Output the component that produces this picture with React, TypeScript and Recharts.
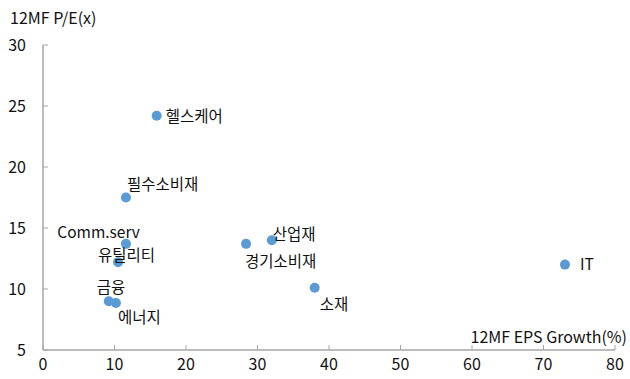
import { Scatter, ScatterChart, XAxis, YAxis } from "recharts";

// 업종별 12MF EPS 성장률 vs 12MF P/E 산점도

const SECTORS = ["헬스케어", "필수소비재", "Comm.serv", "유틸리티", "금융", "에너지", "경기소비재", "산업재", "소재", "IT"];
const EPS_GROWTH = [15.9, 11.6, 11.6, 10.5, 9.2, 10.2, 28.4, 32.0, 38.0, 73.0];
const PE = [24.2, 17.5, 13.7, 12.2, 9.0, 8.85, 13.7, 14.0, 10.1, 12.0];
const X_TICKS = [0, 10, 20, 30, 40, 50, 60, 70, 80];
const Y_TICKS = [5, 10, 15, 20, 25, 30];

const DOT = "#5b9bd5";
const AXIS = "#a6a6a6";
const FONT = "'Noto Sans CJK KR', 'Noto Sans', sans-serif";

// 라벨 위치 (점 기준 오프셋)
const LABEL_POS: Record<string, { dx: number; dy: number; anchor?: "start" | "end" }> = {
  헬스케어: { dx: 9, dy: -1 },
  필수소비재: { dx: 1, dy: -15 },
  "Comm.serv": { dx: 14, dy: -13, anchor: "end" },
  유틸리티: { dx: -20, dy: -8 },
  금융: { dx: -12, dy: -15 },
  에너지: { dx: 2, dy: 13 },
  경기소비재: { dx: -1, dy: 16 },
  산업재: { dx: 1, dy: -7 },
  소재: { dx: 5, dy: 15 },
  IT: { dx: 15, dy: -2 },
};

const data = SECTORS.map((name, i) => ({ name, x: EPS_GROWTH[i], y: PE[i] }));

function Dot(props: any) {
  const { cx, cy, payload } = props;
  const pos = LABEL_POS[payload.name] ?? { dx: 8, dy: 0 };
  return (
    <g>
      <circle cx={cx} cy={cy} r={5} fill={DOT} />
      <text
        x={cx + pos.dx}
        y={cy + pos.dy}
        textAnchor={pos.anchor ?? "start"}
        dominantBaseline="central"
        fontSize={15.5}
        fill="#111"
        fontFamily={FONT}
      >
        {payload.name}
      </text>
    </g>
  );
}

export default function App() {
  return (
    <div style={{ position: "absolute", left: 0, top: 0, width: 630, height: 379, background: "#fff", fontFamily: FONT }}>
      <ScatterChart width={630} height={379} margin={{ top: 45, right: 15, left: 13, bottom: 4 }}>
        <XAxis
          type="number"
          dataKey="x"
          domain={[0, 80]}
          ticks={X_TICKS}
          tick={{ fontSize: 16, fill: "#111", fontFamily: FONT }}
          axisLine={{ stroke: AXIS, strokeWidth: 1.5 }}
          tickLine={{ stroke: AXIS }}
          tickSize={-5}
          tickMargin={14}
          height={25}
        />
        <YAxis
          type="number"
          dataKey="y"
          domain={[5, 30]}
          ticks={Y_TICKS}
          tick={{ fontSize: 16, fill: "#111", fontFamily: FONT }}
          axisLine={{ stroke: AXIS, strokeWidth: 1.5 }}
          tickLine={{ stroke: AXIS }}
          tickSize={-5}
          tickMargin={22}
          width={30}
        />
        <Scatter data={data} shape={<Dot />} isAnimationActive={false} />
        <text x={10} y={17} dominantBaseline="central" fontSize={16} fill="#111" fontFamily={FONT}>
          12MF P/E(x)
        </text>
        <text x={627} y={336} textAnchor="end" dominantBaseline="central" fontSize={16} fill="#111" fontFamily={FONT}>
          12MF EPS Growth(%)
        </text>
      </ScatterChart>
    </div>
  );
}
